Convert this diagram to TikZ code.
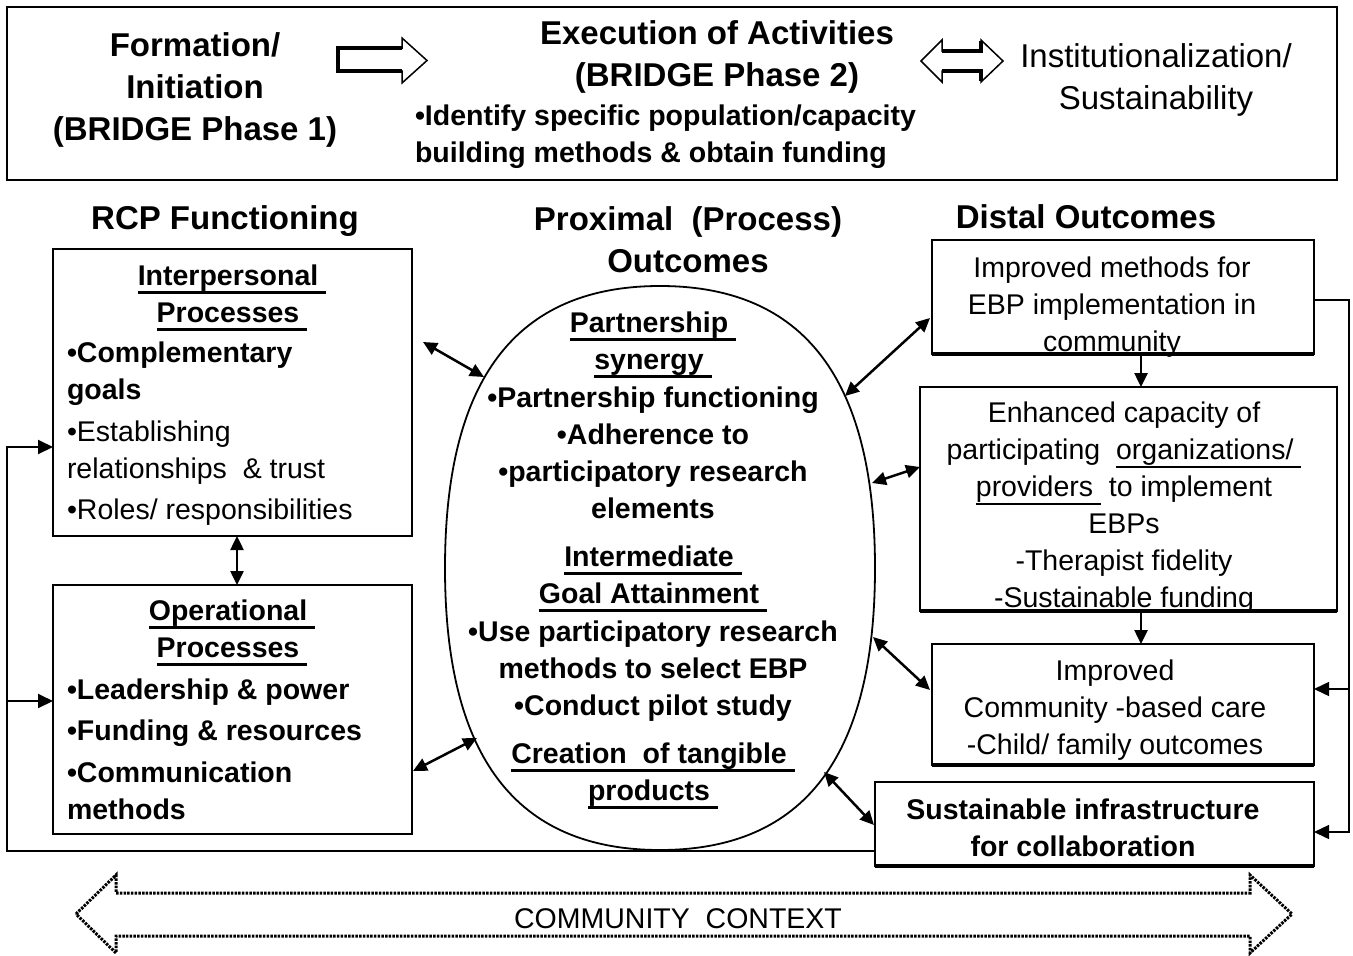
\documentclass[tikz,border=0pt]{standalone}
\usepackage{fontspec}
\setmainfont{Liberation Sans}
\usetikzlibrary{arrows.meta}
% font sizes (1pt = 1 unit of the drawing)
\newcommand\fhead{\fontsize{33}{42}\selectfont\bfseries}
\newcommand\fheadreg{\fontsize{33}{42}\selectfont}
\newcommand\fbodyb{\fontsize{28.5}{37}\selectfont\bfseries}
\newcommand\fbodyr{\fontsize{28.5}{37}\selectfont}
% underlines: thick for bold headings, thin for regular text
\newcommand\ulb[1]{\setbox0=\hbox{#1}\rlap{\rule[-9pt]{\wd0}{3pt}}\box0}
\newcommand\ulr[1]{\setbox0=\hbox{#1}\rlap{\rule[-8pt]{\wd0}{2pt}}\box0}
\tikzset{
  boxframe/.style={draw, line width=2, inner sep=0, outer sep=0},
  lbl/.style={inner sep=0, outer sep=0, align=center},
  lbll/.style={inner sep=0, outer sep=0, align=left, anchor=west},
  tipx/.tip={Triangle[length=14pt,width=13pt]},
  dbl/.style={line width=2.5, tipx-tipx},
  sgl/.style={line width=2.5, -tipx},
  loopline/.style={line width=2, -{Triangle[length=15pt,width=14pt]}},
  loopthin/.style={line width=1.5, -{Triangle[length=15pt,width=14pt]}},
}
\begin{document}
\begin{tikzpicture}[x=1pt,y=-1pt,line join=miter]
\useasboundingbox (0,0) rectangle (1353,956);

% ---------- phase banner ----------
\node[draw, line width=1.5, inner sep=0, minimum width=1330, minimum height=173] (banner) at (672,93.5) {};
\node[lbl, font=\fhead] (phase1) at (195,90) {Formation/\\Initiation\\(BRIDGE Phase 1)};
\node[lbl, font=\fhead] (phase2) at (717,57) {Execution of Activities\\(BRIDGE Phase 2)};
\node[lbll, font=\fbodyb] (phase2b) at (415,137) {•Identify specific population/capacity\\building methods \& obtain funding};
\node[lbl, font=\fheadreg] (phase3) at (1156,80) {Institutionalization/\\Sustainability};

% block arrows between the phases
\draw[line width=1.5] (338,48) -- (402,48) -- (402,38) -- (427,60.5) -- (402,83) -- (402,71) -- (338,71) -- cycle;
\draw[line width=4] (338,48) -- (402,48) (338,71) -- (402,71) (338,46) -- (338,73);
\draw[line width=1.5] (921,61) -- (942,40) -- (942,51) -- (981,51) -- (981,40) -- (1003,61) -- (981,82) -- (981,71) -- (942,71) -- (942,82) -- cycle;
\draw[line width=4] (942,51) -- (981,51) -- (981,41) (942,71) -- (981,71) -- (981,81);

% ---------- column headings ----------
\node[lbl, font=\fhead] (hrcp) at (225,221) {RCP Functioning};
\node[lbl, font=\fhead] (hprox) at (688,240) {Proximal \ (Process)\\Outcomes};
\node[lbl, font=\fhead] (hdist) at (1086,217) {Distal Outcomes};

% ---------- RCP functioning boxes ----------
\node[boxframe, minimum width=359, minimum height=287] (l1) at (232.5,392.5) {};
\node[boxframe, minimum width=359, minimum height=249] (l2) at (232.5,709.5) {};
\node[lbl, font=\fbodyb] (l1h) at (232,298) {\ulb{Interpersonal\ }\\\ulb{Processes\ }};
\node[lbll, font=\fbodyb] (l1b) at (67,434) {•Complementary\\goals\\[5pt]{\mdseries •Establishing}\\{\mdseries relationships \ \& trust}\\[4pt]{\mdseries •Roles/ responsibilities}};
\node[lbl, font=\fbodyb] (l2h) at (232,633) {\ulb{Operational\ }\\\ulb{Processes\ }};
\node[lbll, font=\fbodyb] (l2b) at (67,749) {•Leadership \& power\\[4pt]•Funding \& resources\\[5pt]•Communication\\methods};

% ---------- proximal outcomes oval ----------
\begin{scope}[shift={(660,568)}]
  \draw[line width=1.8] (0,-282) .. controls (144,-282) and (215,-189) .. (215,0)
    .. controls (215,189) and (144,282) .. (0,282)
    .. controls (-144,282) and (-215,189) .. (-215,0)
    .. controls (-215,-189) and (-144,-282) .. cycle;
\end{scope}
\node[lbl, font=\fbodyb] (oval) at (653,560.5) {\ulb{Partnership\ }\\\ulb{synergy\ }\\[1pt]•Partnership functioning\\•Adherence to\\•participatory research\\elements\\[11pt]\ulb{Intermediate\ }\\\ulb{Goal Attainment\ }\\[1pt]•Use participatory research\\methods to select EBP\\•Conduct pilot study\\[11pt]\ulb{Creation \ of tangible\ }\\\ulb{products\ }};

% ---------- distal outcome boxes ----------
\node[boxframe, line width=2.2, minimum width=382, minimum height=114] (d1) at (1123,297) {};
\node[boxframe, line width=2.2, minimum width=417, minimum height=224] (d2) at (1128.5,499) {};
\node[boxframe, line width=2.2, minimum width=382, minimum height=121] (d3) at (1123,704.5) {};
\node[boxframe, line width=2.2, minimum width=439, minimum height=84] (d4) at (1094.5,824) {};
\foreach \b in {d1,d2,d3,d4} \draw[line width=4] (\b.south west) -- (\b.south east);
\node[lbl, font=\fbodyr] (d1t) at (1112,307) {Improved methods for\\EBP implementation in\\community};
\node[lbl, font=\fbodyr] (d2t) at (1124,508) {Enhanced capacity of\\participating \ \ulr{organizations/\ }\\\ulr{providers\ } \ to implement\\EBPs\\-Therapist fidelity\\-Sustainable funding};
\node[lbl, font=\fbodyr] (d3t) at (1115,710) {Improved\\Community -based care\\-Child/ family outcomes};
\node[lbl, font=\fbodyb] (d4t) at (1083,828) {Sustainable infrastructure\\for collaboration};

% ---------- connector end points ----------
\coordinate (e1) at (484,377);
\coordinate (e2) at (477,738);
\coordinate (e3) at (845,396);
\coordinate (e4) at (872,483);
\coordinate (e5) at (873,637);
\coordinate (e6) at (824,772);
\coordinate (l1r) at (423,342);
\coordinate (l2r) at (413,771);
\coordinate (d1l) at (930,318);
\coordinate (d2l) at (920,467);
\coordinate (d3l) at (930,690);
\coordinate (d4l) at (874,825);

\draw[dbl] (l1r) -- (e1);
\draw[dbl] (l2r) -- (e2);
\draw[dbl] (l1.south -| 237,0) -- (l2.north -| 237,0);
\draw[dbl] (e3) -- (d1l);
\draw[dbl] (e4) -- (d2l);
\draw[dbl] (e5) -- (d3l);
\draw[dbl] (e6) -- (d4l);
\draw[sgl] (d1.south -| 1141,0) -- (d2.north -| 1141,0);
\draw[sgl] (d2.south -| 1141,0) -- (d3.north -| 1141,0);

% ---------- feedback loops ----------
\coordinate (fbout) at (875,851);
\coordinate (fbin1) at (53,447);
\coordinate (fbin2) at (53,701);
\coordinate (rtout) at (1314,300);
\coordinate (rtin1) at (1314,689);
\coordinate (rtin2) at (1314,832);
\draw[loopline] (fbout) -- (7,851) |- (fbin1);
\draw[loopline] (7,701) -- (fbin2);
\draw[loopthin] (rtout) -- (1349,300) |- (rtin2);
\draw[loopthin] (1349,689) -- (rtin1);

% ---------- community context ----------
\draw[line width=3, dash pattern=on 2.5pt off 1.2pt] (76,914) -- (116,875) -- (116,893) -- (1250,893) -- (1250,875) -- (1292,914) -- (1250,953) -- (1250,936) -- (116,936) -- (116,953) -- cycle;
\node[lbl, font=\fbodyr] (cc) at (678,919) {COMMUNITY \ CONTEXT};
\end{tikzpicture}
\end{document}
